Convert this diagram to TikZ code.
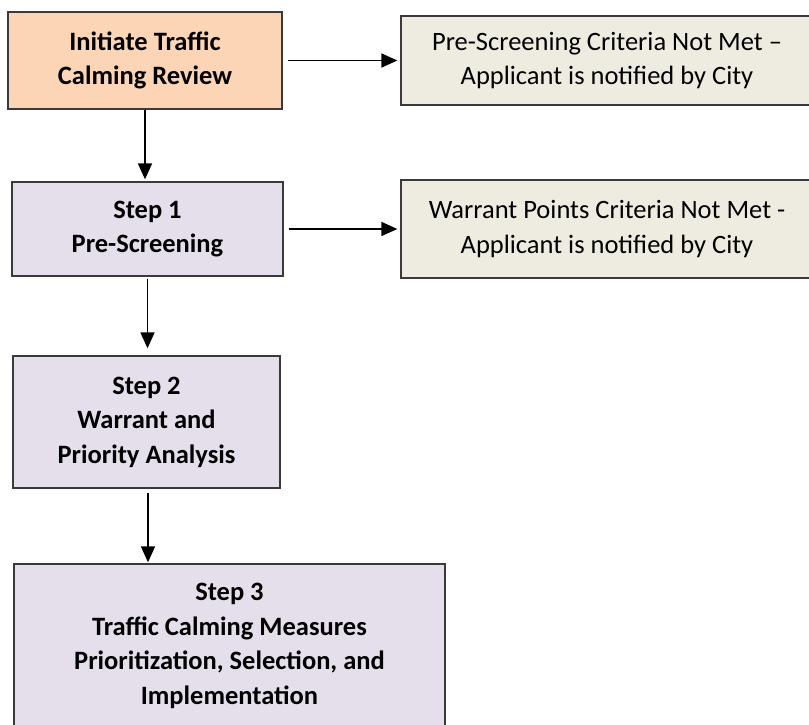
\documentclass[tikz,border=0pt]{standalone}
\usepackage{fontspec}
\setmainfont{Carlito}
\usetikzlibrary{arrows.meta}
\definecolor{peach}{HTML}{FBD5B5}
\definecolor{lav}{HTML}{E5DFEC}
\definecolor{beige}{HTML}{EEECE1}
\definecolor{edge}{HTML}{3A3A3A}
\tikzset{
  boxbase/.style={draw=edge, line width=1.3pt, inner sep=0pt, align=center, font=\fontsize{26.5}{34.5}\selectfont},
  leftbox/.style={boxbase, font=\fontsize{26.5}{34.5}\selectfont\bfseries},
  rightbox/.style={boxbase, fill=beige},
  conn/.style={line width=1.8pt, -{Triangle[length=16pt,width=14pt]}}
}
\begin{document}
\begin{tikzpicture}[x=1pt,y=-1pt]
\useasboundingbox (0,0) rectangle (809,725);
\begin{scope}
\clip (0,0) rectangle (809,725);
\node[leftbox, fill=peach, minimum width=274pt, minimum height=97pt] (init) at (145,60.5) {Initiate Traffic\\Calming Review};
\node[rightbox, minimum width=412pt, minimum height=89pt] (pre) at (607,60.5) {Pre-Screening Criteria Not Met –\\Applicant is notified by City};
\node[leftbox, fill=lav, minimum width=271pt, minimum height=94pt] (s1) at (147.5,229) {Step 1\\Pre-Screening};
\node[rightbox, minimum width=412pt, minimum height=98pt] (war) at (607,229) {Warrant Points Criteria Not Met -\\Applicant is notified by City};
\node[leftbox, fill=lav, minimum width=267pt, minimum height=132pt] (s2) at (146.5,422) {Step 2\\Warrant and\\Priority Analysis};
\node[leftbox, fill=lav, minimum width=431pt, minimum height=196pt] (s3) at (229.5,662) {};
\node[font=\fontsize{26.5}{34.5}\selectfont\bfseries, align=center, anchor=north] (s3t) at (229.5,580) {Step 3\\Traffic Calming Measures\\Prioritization, Selection, and\\Implementation};
\end{scope}
\draw[conn] ([xshift=5pt]init.east) -- ([xshift=-3pt]pre.west);
\draw[conn] ([xshift=5pt]s1.east) -- ([xshift=-3pt]war.west);
\draw[conn] (init.south) -- ([yshift=2pt]init.south |- s1.north);
\draw[conn] ([yshift=-2pt]s1.south) -- ([yshift=7pt]s1.south |- s2.north);
\draw[conn] ([xshift=1.5pt,yshift=-4pt]s2.south) -- ([xshift=1.5pt,yshift=1pt]s2.south |- s3.north);
\end{tikzpicture}
\end{document}
